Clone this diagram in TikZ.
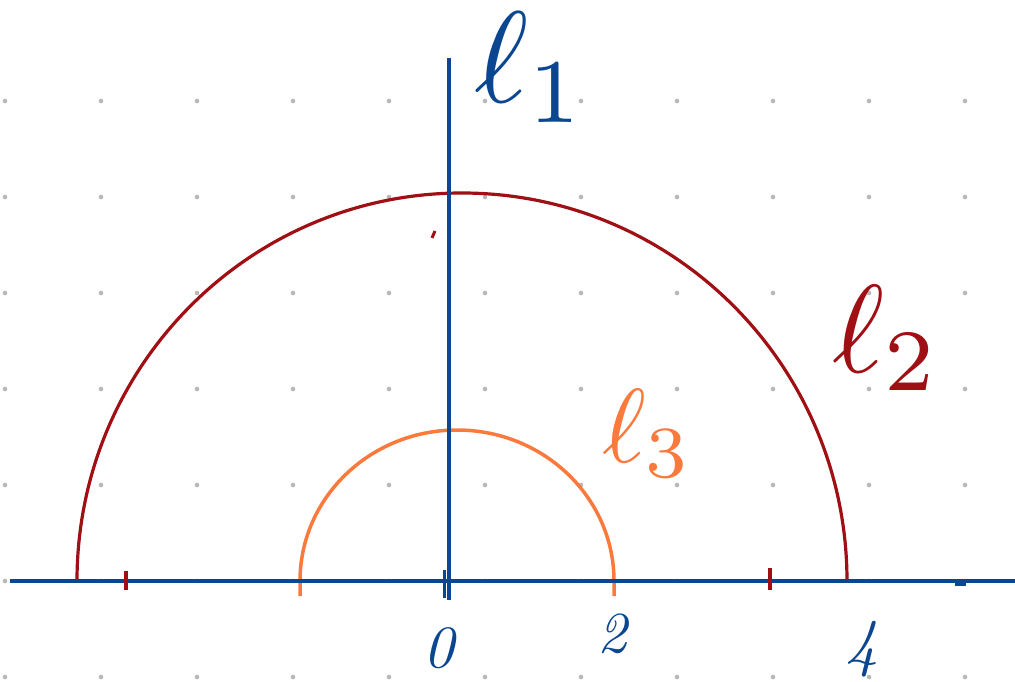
\documentclass[tikz,border=0pt]{standalone}
\definecolor{axblue}{HTML}{0B4690}
\definecolor{arcred}{HTML}{A00F14}
\definecolor{arcorange}{HTML}{FA7A3E}
\definecolor{dotgrey}{HTML}{B8B8B8}
\tikzset{
  gdot/.style={fill=dotgrey},
  axis/.style={draw=axblue, line width=4.3pt},
  bigarc/.style={draw=arcred, line width=3.2pt},
  smallarc/.style={draw=arcorange, line width=3.5pt},
  lab/.style={inner sep=0pt, anchor=base west},
}
\begin{document}
\begin{tikzpicture}[x=1pt,y=-1pt]
\useasboundingbox (0,0) rectangle (1015,682);
% dot grid
\foreach \i in {0,...,10}
  \foreach \j in {0,...,6}
    \fill[gdot] (5+96*\i, 101+96*\j) circle (2.3);
% arcs
\draw[bigarc] (77,581) arc[start angle=180, end angle=0, x radius=385, y radius=-388];
\draw[smallarc] (300,596) -- (300,581) arc[start angle=180, end angle=0, x radius=157, y radius=-151] -- (614,596);
% axes
\coordinate (xl) at (10,581);
\coordinate (xr) at (1015,581);
\coordinate (yt) at (449,58);
\coordinate (yb) at (449,600);
\draw[axis] (xl) -- (xr);
\draw[axis] (yt) -- (yb);
% ticks
\draw[axblue, line width=3pt] (444,570) -- (444,598);
\draw[axblue, line width=3pt] (955,584) -- (966,584);
\draw[arcred, line width=3.5pt] (126,571) -- (126,590);
\draw[arcred, line width=3.5pt] (770,568) -- (770,590);
\draw[arcred, line width=3pt] (432,238) -- (435,231);
% labels
\node[lab, text=axblue, scale=13] (l1) at (472,103) {$\ell_1$};
\node[lab, text=arcred, scale=12.5] (l2) at (830,372) {$\ell_2$};
\node[lab, text=arcorange, scale=10.5] (l3) at (600,462) {$\ell_3$};
\node[lab, text=axblue, scale=6] (n0) at (422,667) {\itshape 0};
\node[lab, text=axblue, scale=5.8] (n2) at (596,652) {\itshape 2};
\node[lab, text=axblue, scale=6.5] (n4) at (844,664) {\itshape 4};
\end{tikzpicture}
\end{document}
